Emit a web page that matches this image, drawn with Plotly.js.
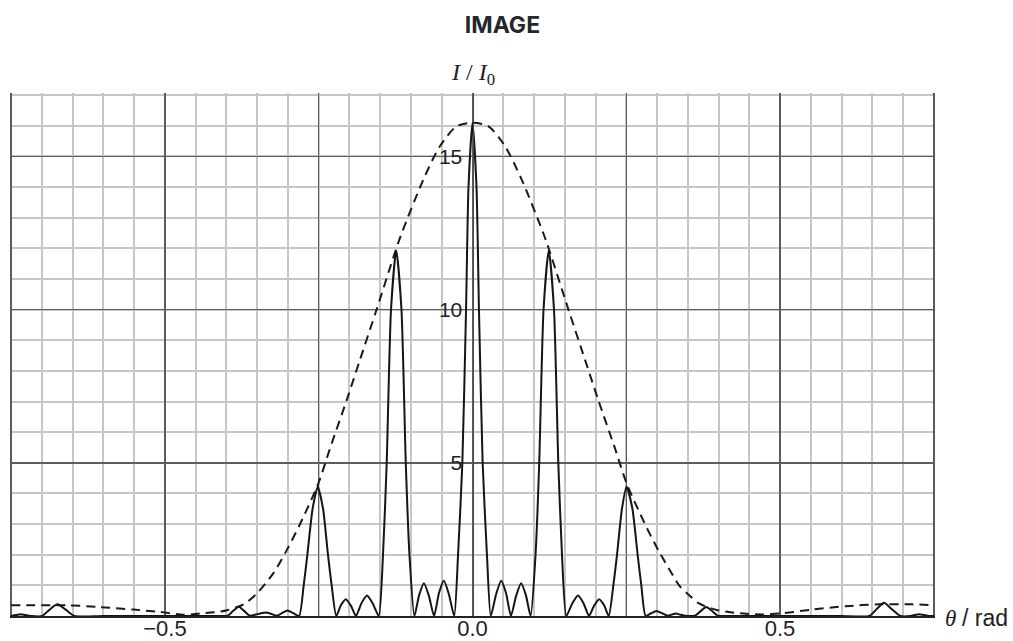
<!DOCTYPE html>
<html>
<head>
<meta charset="utf-8">
<script src="https://cdn.plot.ly/plotly-3.0.1.min.js"></script>
<style>
  html, body { margin: 0; padding: 0; background: #ffffff; }
  #chart { width: 1013px; height: 641px; }
</style>
</head>
<body>
<div id="chart"></div>
<script>
// ---- Data ----
// Multi-slit intensity pattern (solid line): angle θ in rad, intensity I/I0
const thetaSolid = [
  -0.750, -0.742, -0.735, -0.727, -0.718, -0.700, -0.688, -0.675, -0.661, -0.647,
  -0.600, -0.500, -0.410, -0.398, -0.389, -0.380, -0.371, -0.362, -0.348, -0.334,
  -0.326, -0.318, -0.309, -0.301, -0.292, -0.282, -0.2745, -0.2685, -0.2600, -0.2516,
  -0.2430, -0.2350, -0.2290, -0.2215, -0.2140, -0.2060, -0.1975, -0.1895, -0.1805, -0.1715,
  -0.1620, -0.1525, -0.1455, -0.1395, -0.1325, -0.1240, -0.1155, -0.1085, -0.1025, -0.0945,
  -0.0868, -0.0790, -0.0708, -0.0625, -0.0545, -0.0466, -0.0385, -0.0297, -0.0235, -0.0165,
  -0.0105, -0.0065, 0.0000, 0.0065, 0.0105, 0.0165, 0.0235, 0.0297, 0.0385, 0.0466,
  0.0545, 0.0625, 0.0708, 0.0790, 0.0868, 0.0945, 0.1025, 0.1085, 0.1155, 0.1240,
  0.1325, 0.1395, 0.1455, 0.1525, 0.1620, 0.1715, 0.1805, 0.1895, 0.1975, 0.2060,
  0.2140, 0.2215, 0.2290, 0.2350, 0.2430, 0.2505, 0.2600, 0.2685, 0.2745, 0.2815,
  0.2905, 0.2990, 0.3080, 0.3175, 0.3245, 0.3310, 0.3380, 0.3450, 0.3615, 0.3710,
  0.3800, 0.3890, 0.3990, 0.4100, 0.5000, 0.6000, 0.6450, 0.6570, 0.6690, 0.6820,
  0.6960, 0.7120, 0.7190, 0.7260, 0.7340, 0.7420, 0.7500
];
const intensitySolid = [
  0.00, 0.03, 0.06, 0.03, 0.00, 0.00, 0.20, 0.38, 0.20, 0.00,
  0.00, 0.00, 0.00, 0.01, 0.17, 0.30, 0.16, 0.01, 0.07, 0.11,
  0.06, 0.01, 0.10, 0.18, 0.10, 0.00, 1.00, 2.00, 3.50, 4.22,
  3.50, 2.00, 1.00, 0.00, 0.35, 0.55, 0.33, 0.00, 0.42, 0.67,
  0.40, 0.00, 2.00, 5.00, 10.00, 11.93, 10.00, 5.00, 2.00, 0.00,
  0.68, 1.07, 0.65, 0.00, 0.75, 1.15, 0.72, 0.00, 2.00, 5.00,
  10.00, 14.00, 16.10, 14.00, 10.00, 5.00, 2.00, 0.00, 0.72, 1.15,
  0.75, 0.00, 0.65, 1.07, 0.68, 0.00, 2.00, 5.00, 10.00, 11.93,
  10.00, 5.00, 2.00, 0.00, 0.40, 0.67, 0.42, 0.00, 0.33, 0.55,
  0.35, 0.00, 1.00, 2.00, 3.50, 4.22, 3.50, 2.00, 1.00, 0.00,
  0.09, 0.16, 0.09, 0.01, 0.05, 0.08, 0.04, 0.01, 0.01, 0.16,
  0.29, 0.17, 0.01, 0.00, 0.00, 0.00, 0.00, 0.22, 0.43, 0.22,
  0.00, 0.00, 0.03, 0.06, 0.03, 0.00, 0.00
];

// Single-slit envelope (dashed line)
const thetaEnvelope = [
  -0.750, -0.713, -0.659, -0.605, -0.551, -0.508, -0.470, -0.443, -0.420, -0.399,
  -0.372, -0.351, -0.324, -0.302, -0.280, -0.2506, -0.2317, -0.2045, -0.183, -0.156,
  -0.125, -0.115, -0.080, -0.053, -0.026, 0.000, 0.026, 0.053, 0.080, 0.115,
  0.125, 0.156, 0.183, 0.2045, 0.2317, 0.2506, 0.280, 0.302, 0.324, 0.3365,
  0.351, 0.369, 0.399, 0.420, 0.445, 0.472, 0.499, 0.553, 0.607, 0.661,
  0.715, 0.750
];
const intensityEnvelope = [
  0.35, 0.35, 0.35, 0.29, 0.21, 0.13, 0.04, 0.08, 0.12, 0.19,
  0.38, 0.73, 1.39, 2.15, 3.02, 4.33, 5.47, 7.05, 8.36, 10.00,
  11.93, 12.50, 14.24, 15.33, 15.98, 16.10, 15.98, 15.33, 14.24, 12.50,
  11.93, 10.00, 8.36, 7.05, 5.47, 4.33, 3.02, 2.15, 1.39, 0.98,
  0.70, 0.40, 0.19, 0.12, 0.07, 0.05, 0.08, 0.21, 0.32, 0.38,
  0.38, 0.35
];

// Tick labels
const xTickVals = [-0.75, -0.5, -0.25, 0, 0.25, 0.5, 0.75];
const xTickText = [' ', '\u22120.5', ' ', '0.0', ' ', '0.5', ' '];
const yTickVals = [5, 10, 15];
const yTickText = ['5', '10', '15'];

const chartTitle = 'IMAGE';
const yLabel = '<i>I</i> / <i>I</i><sub>0</sub>';
const xLabelSymbol = '<i>\u03b8</i>';
const xLabelUnit = '/ rad';

// ---- Chart ----
const traces = [
  {
    x: thetaEnvelope, y: intensityEnvelope,
    type: 'scatter', mode: 'lines',
    line: { color: '#1a1a1a', width: 2, dash: '9px,6px', shape: 'spline', smoothing: 0.8 },
    hoverinfo: 'skip', showlegend: false
  },
  {
    x: thetaSolid, y: intensitySolid,
    type: 'scatter', mode: 'lines',
    line: { color: '#151515', width: 2, shape: 'spline', smoothing: 0.6 },
    hoverinfo: 'skip', showlegend: false
  }
];

const layout = {
  width: 1013, height: 641,
  paper_bgcolor: '#ffffff', plot_bgcolor: '#ffffff',
  margin: { l: 10, r: 78, t: 93, b: 25, pad: 0 },
  showlegend: false,
  title: {
    text: chartTitle,
    font: { family: 'Inter, Lato, sans-serif', size: 23, color: '#25272c', weight: 700 },
    x: 0.496, xanchor: 'center', xref: 'container',
    y: 1 - 25 / 641, yanchor: 'middle', yref: 'container'
  },
  xaxis: {
    range: [-0.752, 0.752],
    tickmode: 'array', tickvals: xTickVals, ticktext: xTickText,
    ticks: '', showticklabels: true, ticklabelstandoff: -8,
    tickfont: { family: 'Liberation Sans, Arial, sans-serif', size: 22, color: '#222' },
    showgrid: true, gridcolor: '#5c5c5c', gridwidth: 1.5,
    zeroline: false,
    showline: true, linecolor: '#222', linewidth: 2,
    minor: { tickmode: 'linear', tick0: 0, dtick: 0.05, showgrid: true, gridcolor: '#c6c6c6', gridwidth: 2, ticks: '' },
    fixedrange: true
  },
  yaxis: {
    range: [0, 17.07],
    anchor: 'free', position: 0.5,
    tickmode: 'array', tickvals: yTickVals, ticktext: yTickText,
    ticks: '', showticklabels: true, ticklabelstandoff: 6,
    tickfont: { family: 'Liberation Sans, Arial, sans-serif', size: 21, color: '#222' },
    showgrid: true, gridcolor: '#5c5c5c', gridwidth: 1.5,
    zeroline: false,
    showline: true, linecolor: '#4a4a4a', linewidth: 1.5,
    minor: { tickmode: 'linear', tick0: 0, dtick: 1, showgrid: true, gridcolor: '#c6c6c6', gridwidth: 2, ticks: '' },
    fixedrange: true
  },
  annotations: [
    {
      text: yLabel, xref: 'paper', yref: 'paper', x: 0.5, y: 1, xanchor: 'center', yanchor: 'bottom',
      yshift: 2, showarrow: false,
      font: { family: 'Liberation Serif, Times New Roman, serif', size: 24, color: '#222' }
    },
    {
      text: xLabelSymbol + ' <span style="font-family:Liberation Sans, Arial, sans-serif">' + xLabelUnit + '</span>',
      xref: 'paper', yref: 'paper', x: 1, y: 0, xanchor: 'left', yanchor: 'middle',
      xshift: 8, yshift: -2, showarrow: false,
      font: { family: 'Liberation Serif, Times New Roman, serif', size: 23, color: '#222' }
    }
  ]
};

Plotly.newPlot('chart', traces, layout, { displayModeBar: false, staticPlot: true });
</script>
</body>
</html>
